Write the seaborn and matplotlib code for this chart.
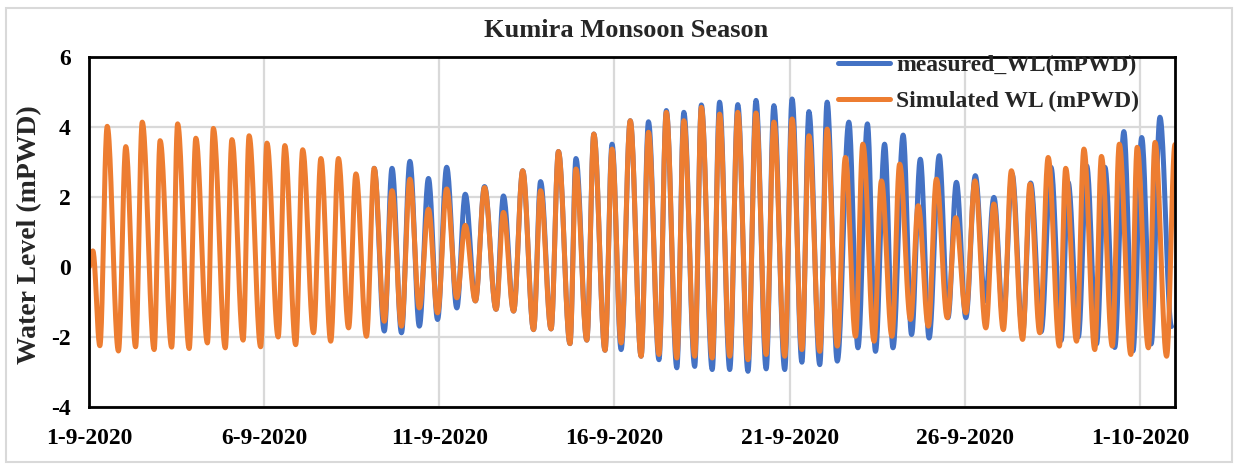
import numpy as np
import pandas as pd
import matplotlib
matplotlib.use("Agg")
import matplotlib.pyplot as plt
from matplotlib.patches import Rectangle
import seaborn as sns

START = pd.Timestamp("2020-09-01")

# Simulated water level: successive high / low water turning points
# (days after 1-9-2020 00:00, level in mPWD)
sim_days = [0.00, 0.11, 0.31,
            0.52, 0.84, 1.05, 1.33, 1.52, 1.86, 2.03, 2.36, 2.53, 2.86, 3.05, 3.38,
            3.55, 3.89, 4.08, 4.40, 4.57, 4.90, 5.08, 5.40, 5.59, 5.90, 6.10, 6.41,
            6.62, 6.90, 7.12, 7.41, 7.62, 7.92, 8.14, 8.43, 8.65, 8.92, 9.16, 9.43,
            9.69, 9.95, 10.21, 10.50, 10.74, 11.03, 11.29, 11.62, 11.83, 12.12,
            12.38, 12.69, 12.89, 13.19, 13.40, 13.73, 13.90, 14.21, 14.41, 14.73,
            14.93, 15.19, 15.45, 15.76, 15.97, 16.27, 16.48, 16.78, 16.98, 17.29,
            17.48, 17.79, 18.00, 18.29, 18.52, 18.81, 19.04, 19.33, 19.55, 19.86,
            20.07, 20.35, 20.55, 20.86, 21.07, 21.36, 21.59, 21.88, 22.09, 22.41,
            22.62, 22.92, 23.14, 23.45, 23.67, 23.96, 24.19, 24.50, 24.74, 25.03,
            25.29, 25.60, 25.83, 26.10, 26.33, 26.65, 26.86, 27.14, 27.38, 27.70,
            27.88, 28.19, 28.40, 28.71, 28.90, 29.21, 29.41, 29.74, 29.92, 30.24,
            30.43, 30.76, 31.00]
sim_wl = [0.00, 0.46, -2.25,
          4.02, -2.40, 3.44, -2.28, 4.14, -2.36, 3.61, -2.29, 4.09, -2.33, 3.68, -2.17,
          3.96, -2.31, 3.64, -2.09, 3.75, -2.28, 3.54, -2.00, 3.47, -2.22, 3.35, -1.88,
          3.10, -2.12, 3.10, -1.74, 2.66, -1.98, 2.82, -1.55, 2.18, -1.69, 2.51, -1.17,
          1.65, -1.31, 2.23, -0.88, 1.19, -0.97, 2.27, -1.21, 1.56, -1.26,
          2.75, -1.79, 2.18, -1.77, 3.30, -2.19, 2.80, -2.09, 3.80, -2.38,
          3.37, -2.17, 4.18, -2.55, 3.85, -2.50, 4.42, -2.60, 4.18, -2.55,
          4.56, -2.60, 4.37, -2.55, 4.42, -2.65, 4.40, -2.50, 4.14, -2.55,
          4.23, -2.36, 3.75, -2.41, 3.94, -2.26, 3.13, -1.98, 3.51, -2.12,
          2.46, -1.98, 2.94, -1.50, 1.75, -1.69, 2.51, -1.45, 1.41, -1.31,
          2.46, -1.74, 1.80, -1.79, 2.75, -2.07, 2.37, -1.88, 3.13, -2.26,
          2.82, -2.12, 3.37, -2.36, 3.16, -2.26, 3.51, -2.50, 3.42, -2.31,
          3.56, -2.55, 3.50]

# Measured water level turning points (record begins on 9-9-2020)
meas_days = [8.14, 8.43, 8.65, 8.92, 9.16, 9.43, 9.69, 9.95, 10.21, 10.50,
             10.74, 11.03, 11.29, 11.62, 11.83, 12.12, 12.38, 12.69, 12.89, 13.19,
             13.40, 13.73, 13.90, 14.21, 14.41, 14.73, 14.93, 15.19, 15.45, 15.76,
             15.97, 16.27, 16.48, 16.78, 16.98, 17.29, 17.48, 17.79, 18.00, 18.29,
             18.52, 18.81, 19.04, 19.33, 19.55, 19.86, 20.07, 20.35, 20.55, 20.86,
             21.07, 21.36, 21.69, 21.95, 22.22, 22.45, 22.71, 22.95, 23.24, 23.48,
             23.73, 23.98, 24.27, 24.52, 24.76, 25.03, 25.30, 25.58, 25.83, 26.10,
             26.35, 26.65, 26.88, 27.18, 27.46, 27.75, 27.95, 28.24, 28.48, 28.76,
             29.00, 29.28, 29.54, 29.80, 30.05, 30.32, 30.57, 30.90]
meas_wl = [2.82, -1.83, 2.82, -1.88, 3.02, -1.69, 2.53, -1.50, 2.85, -1.17,
           2.08, -0.97, 2.30, -1.21, 2.03, -1.26, 2.75, -1.79, 2.44, -1.77,
           3.30, -2.19, 3.10, -2.09, 3.80, -2.38, 3.51, -2.36, 4.18, -2.55,
           4.15, -2.65, 4.47, -2.88, 4.42, -2.84, 4.63, -2.93, 4.71, -2.93,
           4.64, -2.98, 4.76, -2.91, 4.61, -2.93, 4.80, -2.72, 4.44, -2.79,
           4.71, -2.69, 4.14, -2.31, 4.09, -2.41, 3.51, -2.31, 3.77, -1.93,
           3.08, -2.03, 3.18, -1.45, 2.42, -1.45, 2.61, -0.97, 1.99, -1.50,
           2.66, -1.90, 2.40, -1.85, 2.85, -2.10, 2.42, -2.00, 2.89, -2.20,
           2.85, -2.30, 3.87, -2.40, 3.70, -2.20, 4.28, -1.70]

series_names = ["measured_WL(mPWD)", "Simulated WL (mPWD)"]
series_colors = ["#4472C4", "#ED7D31"]

tick_dates = pd.date_range("2020-09-01", periods=7, freq="5D")
tick_labels = ["1-9-2020", "6-9-2020", "11-9-2020", "16-9-2020",
               "21-9-2020", "26-9-2020", "1-10-2020"]
y_ticks = [-4, -2, 0, 2, 4, 6]


def tide_curve(days, levels, n=24):
    """Join successive high/low waters with half-cosine arcs."""
    t_out, v_out = [days[0]], [levels[0]]
    for t0, v0, t1, v1 in zip(days[:-1], levels[:-1], days[1:], levels[1:]):
        s = np.linspace(0.0, 1.0, n + 1)[1:]
        t_out.extend(t0 + (t1 - t0) * s)
        v_out.extend(v0 + (v1 - v0) * (1.0 - np.cos(np.pi * s)) / 2.0)
    return np.asarray(t_out), np.asarray(v_out)


frames = []
for name, d, v in [(series_names[0], meas_days, meas_wl),
                   (series_names[1], sim_days, sim_wl)]:
    t, wl = tide_curve(d, v)
    frames.append(pd.DataFrame({"time": START + pd.to_timedelta(t, unit="D"),
                                "wl": wl, "series": name}))
df = pd.concat(frames, ignore_index=True)

sns.set_style("white")
plt.rcParams["font.family"] = ["Liberation Serif", "DejaVu Serif"]
plt.rcParams["font.weight"] = "bold"

W, H = 1236, 469
fig = plt.figure(figsize=(W / 100, H / 100), dpi=100)
fig.patch.set_facecolor("white")
ax = fig.add_axes([89 / W, 62 / H, 1086 / W, 350 / H])

sns.lineplot(data=df, x="time", y="wl", hue="series", hue_order=series_names,
             palette=series_colors, linewidth=3.6, estimator=None, sort=False,
             ax=ax)

ax.set_xlim(START, pd.Timestamp("2020-10-02"))
ax.set_ylim(-4, 6)
ax.set_xticks(tick_dates, tick_labels)
ax.set_yticks(y_ticks, [str(v) for v in y_ticks])
ax.grid(True, color="#d9d9d9", linewidth=1.6)
ax.set_axisbelow(True)
for sp in ax.spines.values():
    sp.set_color("black")
    sp.set_linewidth(2.0)
ax.tick_params(axis="both", which="major", direction="out", length=6,
               width=1.8, color="black", labelsize=17, labelcolor="black")
ax.tick_params(axis="x", pad=9)
ax.tick_params(axis="y", pad=7)
for lab in ax.get_xticklabels() + ax.get_yticklabels():
    lab.set_fontweight("bold")
ax.set_xlabel("")
ax.set_ylabel("")

leg = ax.legend(loc="upper left", bbox_to_anchor=(838 / W, 1 - 55 / H),
                bbox_transform=fig.transFigure, frameon=False,
                borderpad=0, borderaxespad=0, handlelength=2.2,
                handletextpad=0.25, labelspacing=0.6,
                prop={"weight": "bold", "size": 17})
for line in leg.get_lines():
    line.set_linewidth(3.6)

fig.text(626 / W, 1 - 30 / H, "Kumira Monsoon Season", ha="center",
         va="center", fontsize=19, fontweight="bold")
fig.text(30 / W, 1 - 235 / H, "Water Level (mPWD)", ha="center", va="center",
         rotation=90, fontsize=20, fontweight="bold")

fig.add_artist(Rectangle((6 / W, 7 / H), 1226 / W, 454 / H,
                         transform=fig.transFigure, fill=False,
                         edgecolor="#d9d9d9", linewidth=1.5))

fig.savefig("out.png", dpi=100, facecolor="white")
